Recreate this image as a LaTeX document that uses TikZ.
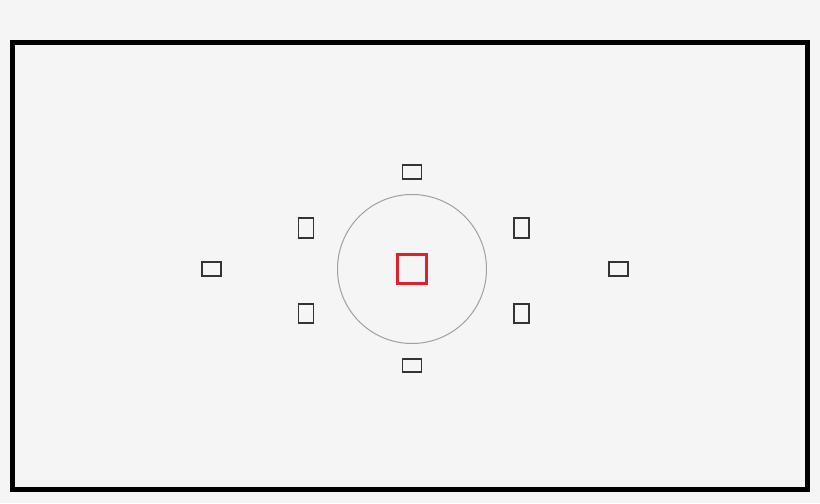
\documentclass[tikz,border=0pt]{standalone}
\definecolor{bg}{HTML}{F5F5F5}
\definecolor{af}{HTML}{333333}
\definecolor{afred}{HTML}{E0202A}
\definecolor{ring}{HTML}{A0A0A0}
\begin{document}
\begin{tikzpicture}[x=0.75pt,y=-0.75pt,
  wide/.style={draw=af,line width=1.4pt,minimum width=19*0.75pt,minimum height=13.5*0.75pt,inner sep=0pt},
  tall/.style={draw=af,line width=1.4pt,minimum width=15*0.75pt,minimum height=19.5*0.75pt,inner sep=0pt},
  center/.style={draw=afred,line width=1.7pt,minimum size=29*0.75pt,inner sep=0pt},
  ringc/.style={draw=ring,line width=0.75pt,circle,minimum size=149*0.75pt,inner sep=0pt},
  frame/.style={draw=black,line width=3.8pt}]
\fill[bg] (0,0) rectangle (820,503);
\useasboundingbox (0,0) rectangle (820,503);
\draw[frame] (12.5,42.5) rectangle (807.5,489.5);
\node[ringc] (ring) at (412,269) {};
\node[center] (c) at (412,269) {};
\node[wide] (t) at (412,172) {};
\node[wide] (b) at (412,365.5) {};
\node[wide] (l) at (211.5,269) {};
\node[wide] (r) at (618.5,269) {};
\node[tall] (ul) at (306,228) {};
\node[tall] (ur) at (521.5,228) {};
\node[tall] (ll) at (306,313.5) {};
\node[tall] (lr) at (521.5,313.5) {};
\end{tikzpicture}
\end{document}
